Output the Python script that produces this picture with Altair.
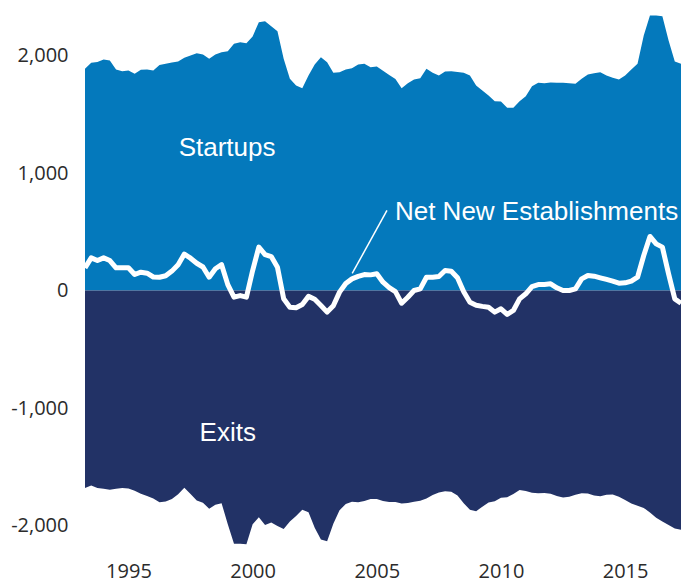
import altair as alt
import pandas as pd

# Quarterly series, 1993Q2 .. 2017Q2 (thousands of establishments)
startups = [1887, 1938, 1945, 1966, 1957, 1881, 1866, 1872, 1844, 1878,
            1881, 1872, 1920, 1929, 1940, 1949, 1980, 2000, 2020, 2009,
            1972, 2009, 2028, 2037, 2099, 2113, 2105, 2162, 2284, 2292,
            2250, 2207, 1972, 1802, 1745, 1722, 1830, 1923, 1986, 1943,
            1853, 1858, 1881, 1892, 1923, 1929, 1900, 1906, 1870, 1835,
            1800, 1722, 1764, 1796, 1807, 1887, 1853, 1830, 1864, 1866,
            1860, 1853, 1830, 1745, 1702, 1660, 1611, 1609, 1555, 1555,
            1611, 1654, 1739, 1768, 1764, 1770, 1768, 1768, 1764, 1759,
            1802, 1838, 1849, 1858, 1830, 1810, 1796, 1830, 1881, 1929,
            2170, 2340, 2340, 2334, 2128, 1949, 1929]

exits = [-1680, -1660, -1680, -1688, -1696, -1688, -1680, -1686, -1705, -1730,
         -1748, -1770, -1802, -1796, -1775, -1733, -1679, -1732, -1787, -1806,
         -1858, -1823, -1810, -1990, -2156, -2156, -2160, -1990, -1929, -1995,
         -1975, -2005, -2030, -1965, -1920, -1866, -1887, -2020, -2120, -2134,
         -1986, -1870, -1818, -1798, -1802, -1792, -1775, -1775, -1792, -1800,
         -1800, -1812, -1808, -1798, -1790, -1770, -1740, -1720, -1708, -1712,
         -1745, -1810, -1865, -1878, -1840, -1804, -1794, -1764, -1759, -1732,
         -1698, -1706, -1722, -1725, -1724, -1730, -1748, -1762, -1756, -1738,
         -1725, -1728, -1745, -1751, -1739, -1736, -1756, -1782, -1812, -1832,
         -1850, -1890, -1935, -1965, -1995, -2025, -2037]

net = [193, 278, 255, 278, 255, 193, 193, 193, 136, 156,
       147, 115, 113, 125, 165, 220, 310, 275, 232, 200,
       113, 185, 220, 50, -57, -43, -57, 170, 369, 306,
       289, 198, -71, -142, -147, -119, -50, -75, -128, -184,
       -130, -14, 60, 99, 120, 136, 133, 142, 71, 25,
       -10, -108, -57, 0, 14, 113, 113, 119, 170, 164,
       108, -10, -100, -125, -135, -142, -184, -156, -204, -170,
       -71, -28, 34, 51, 51, 57, 23, 0, 0, 14,
       99, 128, 122, 108, 94, 79, 62, 65, 80, 113,
       298, 460, 397, 369, 142, -71, -108]

first_quarter = 1993.25
periods = [first_quarter + 0.25 * i for i in range(len(startups))]

year_ticks = [1995, 2000, 2005, 2010, 2015]
value_ticks = [-2000, -1000, 0, 1000, 2000]

df = pd.DataFrame({"t": periods, "startups": startups, "exits": exits, "net": net})

center_labels = pd.DataFrame({
    "t": [1998.97, 1999.0],
    "v": [1217, -1217],
    "text": ["Startups", "Exits"],
})
left_labels = pd.DataFrame({"t": [2005.73], "v": [672], "text": ["Net New Establishments"]})
pointer = pd.DataFrame({"t": [2004.01], "v": [145], "t2": [2005.41], "v2": [681]})

xscale = alt.Scale(domain=[1993.25, 2017.25], nice=False, zero=False)
yscale = alt.Scale(domain=[-2200, 2200], nice=False)

x_axis = alt.Axis(values=year_ticks, format="d", title=None, grid=False, domain=False,
                  ticks=False, labelPadding=12, labelFontSize=20, labelFont="Open Sans",
                  labelColor="#2b2b2b")
y_axis = alt.Axis(values=value_ticks, format=",d", title=None, grid=False, domain=False,
                  ticks=False, labelPadding=17, labelFontSize=20, labelFont="Open Sans",
                  labelColor="#2b2b2b",
                  labelExpr="replace(datum.label, '\u2212', '-')")

base = alt.Chart(df)

start_area = base.mark_area(color="#0479BC", opacity=1).encode(
    x=alt.X("t:Q", scale=xscale, axis=x_axis),
    y=alt.Y("startups:Q", scale=yscale, axis=y_axis),
    y2=alt.datum(0),
)
exit_area = base.mark_area(color="#223266", opacity=1).encode(
    x=alt.X("t:Q", scale=xscale),
    y=alt.Y("exits:Q", scale=yscale),
    y2=alt.datum(0),
)
net_line = base.mark_line(color="white", strokeWidth=5, strokeJoin="round").encode(
    x=alt.X("t:Q", scale=xscale),
    y=alt.Y("net:Q", scale=yscale),
)
rule = alt.Chart(pointer).mark_rule(color="white", strokeWidth=1.5).encode(
    x=alt.X("t:Q", scale=xscale), y=alt.Y("v:Q", scale=yscale),
    x2="t2:Q", y2="v2:Q",
)
text_center = alt.Chart(center_labels).mark_text(
    color="white", font="Liberation Sans", fontSize=26, align="center", baseline="middle"
).encode(x=alt.X("t:Q", scale=xscale), y=alt.Y("v:Q", scale=yscale), text="text:N")
text_left = alt.Chart(left_labels).mark_text(
    color="white", font="Liberation Sans", fontSize=26, align="left", baseline="middle"
).encode(x=alt.X("t:Q", scale=xscale), y=alt.Y("v:Q", scale=yscale), text="text:N")

chart = alt.layer(start_area, exit_area, net_line, rule, text_center, text_left).properties(
    width=596, height=517,
    background="white",
    autosize=alt.AutoSizeParams(type="none"),
    padding={"left": 77, "top": 24, "right": 0, "bottom": 34},
).configure_view(stroke=None)

chart.save("out.html", embed_options={"renderer": "svg", "actions": False})
